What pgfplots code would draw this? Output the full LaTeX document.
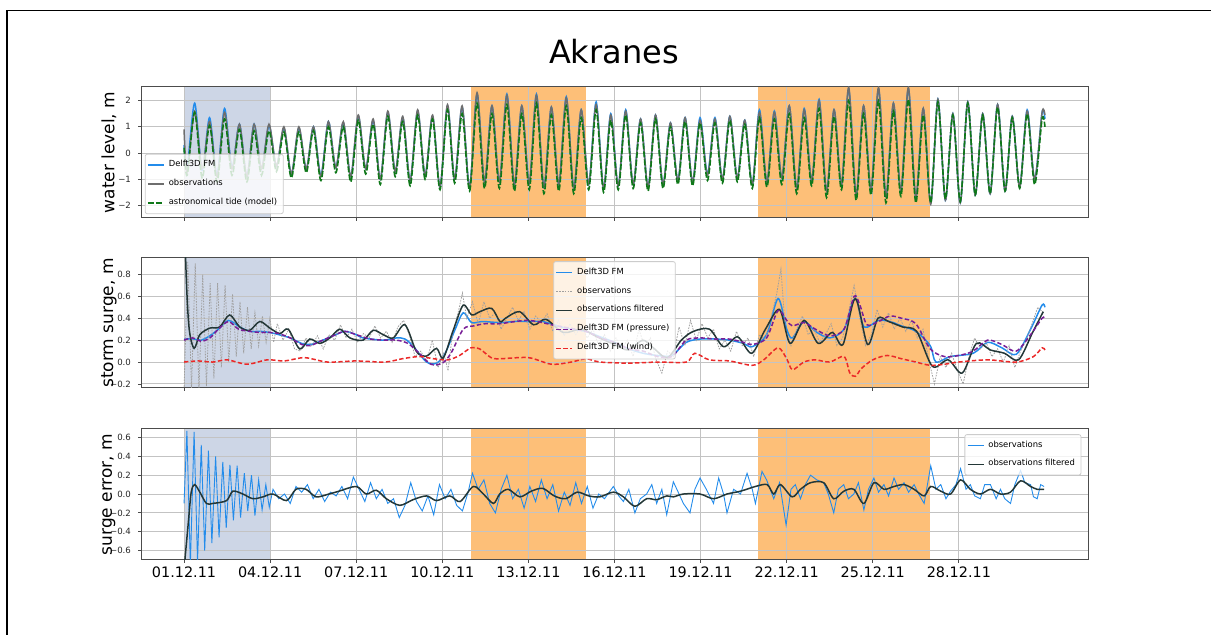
\documentclass[border=0pt]{standalone}
\usepackage{fontspec}
\setmainfont{DejaVu Sans}
\usepackage{pgfplots}
\pgfplotsset{compat=1.18}
\usepackage{pgfplotstable}

\definecolor{fmblue}{RGB}{35,140,235}
\definecolor{obsgray}{RGB}{110,110,110}
\definecolor{tidegreen}{RGB}{15,120,25}
\definecolor{filt}{RGB}{35,55,55}
\definecolor{press}{RGB}{120,30,150}
\definecolor{windred}{RGB}{235,40,40}
\definecolor{spanblue}{RGB}{205,214,230}
\definecolor{spanorange}{RGB}{253,191,120}
\definecolor{gridc}{RGB}{195,195,195}
\definecolor{obslight}{RGB}{160,160,160}

\pgfplotstableread{
t fm obs tide
0.00 0.30 0.90 0.20
0.11 -0.55 -0.75 -0.85
0.37 1.90 1.60 1.55
0.63 -0.65 -0.60 -0.95
0.89 1.35 1.20 1.05
1.15 -0.85 -0.90 -1.10
1.41 1.70 1.55 1.30
1.67 -0.55 -0.60 -0.85
1.93 1.10 1.10 0.90
2.19 -0.90 -0.90 -1.10
2.44 1.10 1.10 0.85
2.70 -0.60 -0.60 -0.85
2.96 1.05 1.10 0.85
3.22 -0.50 -0.50 -0.70
3.48 0.95 1.00 0.80
3.74 -0.80 -0.80 -0.95
4.00 0.95 1.00 0.80
4.26 -0.60 -0.60 -0.75
4.51 1.00 1.00 0.85
4.77 -0.85 -0.90 -1.05
5.03 1.20 1.20 1.00
5.29 -0.55 -0.55 -0.75
5.55 1.15 1.20 1.00
5.81 -0.90 -0.90 -1.10
6.07 1.40 1.45 1.25
6.33 -0.60 -0.60 -0.80
6.59 1.25 1.30 1.10
6.84 -1.00 -1.00 -1.20
7.10 1.55 1.60 1.40
7.36 -0.70 -0.70 -0.90
7.62 1.35 1.40 1.20
7.88 -1.05 -1.05 -1.25
8.14 1.60 1.65 1.45
8.40 -0.85 -0.85 -1.00
8.66 1.40 1.45 1.30
8.92 -1.30 -1.30 -1.40
9.18 1.80 1.85 1.65
9.43 -1.00 -1.00 -1.15
9.69 1.75 1.80 1.50
9.95 -1.30 -1.35 -1.45
10.21 2.25 2.30 1.90
10.47 -1.10 -1.10 -1.35
10.73 1.80 1.80 1.50
10.99 -1.10 -1.10 -1.35
11.25 2.25 2.20 1.85
11.51 -1.20 -1.20 -1.45
11.77 1.80 1.80 1.50
12.03 -1.15 -1.15 -1.40
12.28 2.25 2.20 1.90
12.54 -1.30 -1.30 -1.55
12.80 1.75 1.75 1.45
13.06 -1.20 -1.20 -1.45
13.32 2.15 2.10 1.80
13.58 -1.35 -1.35 -1.55
13.84 1.65 1.65 1.35
14.10 -1.20 -1.20 -1.40
14.36 1.95 1.85 1.65
14.62 -1.35 -1.35 -1.50
14.87 1.50 1.45 1.25
15.13 -1.25 -1.25 -1.40
15.39 1.65 1.60 1.45
15.65 -1.20 -1.20 -1.35
15.91 1.30 1.30 1.15
16.17 -1.30 -1.30 -1.45
16.43 1.45 1.45 1.30
16.69 -1.20 -1.20 -1.35
16.95 1.15 1.15 1.00
17.21 -1.05 -1.05 -1.20
17.46 1.35 1.35 1.20
17.72 -1.10 -1.10 -1.25
17.98 1.35 1.25 1.15
18.24 -0.80 -0.85 -1.05
18.50 1.35 1.30 1.15
18.76 -1.00 -1.00 -1.15
19.02 1.40 1.40 1.25
19.28 -0.95 -0.95 -1.10
19.54 1.25 1.25 1.10
19.80 -1.20 -1.20 -1.35
20.05 1.65 1.55 1.35
20.31 -1.10 -1.10 -1.30
20.57 1.60 1.55 1.30
20.83 -0.95 -0.95 -1.20
21.09 1.80 1.80 1.50
21.35 -1.35 -1.35 -1.55
21.61 1.70 1.65 1.35
21.87 -1.05 -1.05 -1.25
22.13 2.05 2.00 1.70
22.39 -1.45 -1.45 -1.70
22.65 1.65 1.65 1.40
22.91 -1.20 -1.20 -1.40
23.16 2.45 2.50 2.00
23.42 -1.60 -1.60 -1.80
23.68 1.80 1.80 1.50
23.94 -1.40 -1.40 -1.60
24.20 2.45 2.50 2.00
24.46 -1.65 -1.65 -1.90
24.72 1.90 1.90 1.60
24.98 -1.45 -1.45 -1.65
25.24 2.45 2.50 2.05
25.50 -1.70 -1.70 -1.90
25.76 1.70 1.70 1.45
26.02 -1.90 -1.95 -1.90
26.27 2.05 2.05 1.95
26.53 -1.80 -1.80 -1.75
26.79 1.50 1.50 1.45
27.05 -1.90 -1.90 -1.85
27.31 1.95 1.95 1.90
27.57 -1.60 -1.60 -1.60
27.83 1.50 1.50 1.45
28.09 -1.55 -1.55 -1.55
28.35 1.85 1.85 1.75
28.61 -1.45 -1.45 -1.45
28.86 1.40 1.40 1.35
29.12 -1.30 -1.30 -1.35
29.38 1.65 1.60 1.50
29.64 -1.00 -1.00 -1.20
29.90 1.55 1.55 1.30
30.00 1.30 1.45 1.00
}\wl

\pgfplotstableread{
t v
0.00 1.50
0.08 0.75
0.18 0.30
0.35 0.125
0.55 0.25
0.90 0.31
1.24 0.32
1.59 0.43
1.94 0.32
2.29 0.29
2.64 0.37
2.99 0.31
3.34 0.26
3.63 0.30
4.03 0.12
4.38 0.21
4.73 0.17
5.08 0.22
5.43 0.30
5.78 0.22
6.24 0.20
6.59 0.29
6.94 0.25
7.29 0.22
7.70 0.34
8.10 0.095
8.45 0.055
8.80 0.125
9.03 0.035
9.38 0.29
9.73 0.52
10.02 0.43
10.31 0.46
10.72 0.49
11.01 0.37
11.20 0.40
11.69 0.46
12.18 0.34
12.61 0.39
13.22 0.27
13.84 0.30
14.39 0.23
15.00 0.16
15.49 0.11
15.98 0.20
16.35 0.13
16.84 0.04
17.33 0.20
17.75 0.28
18.31 0.30
18.80 0.14
19.29 0.23
19.78 0.08
20.26 0.30
20.75 0.48
21.12 0.17
21.61 0.38
22.10 0.17
22.59 0.27
22.96 0.16
23.39 0.58
23.82 0.16
24.18 0.40
24.55 0.37
25.04 0.32
25.53 0.28
26.08 -0.04
26.63 0.02
27.12 -0.10
27.61 0.17
28.10 0.11
28.59 0.08
29.08 0.02
29.57 0.27
29.94 0.46
}\ssfilt

\pgfplotstableread{
t v
0.00 0.21
0.35 0.21
0.60 0.20
0.90 0.24
1.20 0.30
1.55 0.38
1.94 0.32
2.29 0.28
2.65 0.28
2.99 0.27
3.30 0.25
3.70 0.22
4.10 0.17
4.40 0.16
4.75 0.19
5.20 0.24
5.60 0.28
6.00 0.25
6.24 0.22
6.94 0.20
7.40 0.22
7.70 0.21
8.00 0.14
8.45 0.00
8.80 -0.01
9.10 0.08
9.45 0.30
9.73 0.45
10.02 0.36
10.40 0.37
11.01 0.36
11.50 0.37
12.00 0.37
12.50 0.37
13.00 0.33
13.50 0.30
14.00 0.28
14.50 0.23
15.00 0.18
15.50 0.12
16.00 0.08
16.50 0.06
17.00 0.06
17.50 0.18
18.00 0.21
18.50 0.21
19.00 0.20
19.50 0.17
19.80 0.14
20.30 0.25
20.70 0.58
21.00 0.30
21.20 0.22
21.60 0.37
22.00 0.28
22.50 0.22
23.00 0.30
23.30 0.55
23.45 0.56
23.70 0.32
24.20 0.38
24.60 0.37
25.00 0.33
25.50 0.28
26.00 0.15
26.20 0.00
26.70 0.05
27.50 0.08
28.00 0.18
28.50 0.13
29.00 0.07
29.50 0.30
29.90 0.52
30.00 0.50
}\ssfm

\pgfplotstableread{
t v
0.00 0.20
0.30 0.22
0.60 0.19
0.90 0.22
1.20 0.30
1.55 0.37
1.90 0.30
2.30 0.28
2.65 0.27
3.00 0.27
3.30 0.26
3.70 0.22
4.10 0.16
4.40 0.15
4.75 0.19
5.20 0.24
5.60 0.28
6.00 0.25
6.50 0.21
7.00 0.20
7.40 0.20
7.80 0.17
8.20 0.08
8.60 -0.02
9.00 -0.01
9.30 0.08
9.73 0.30
10.10 0.33
10.50 0.35
11.00 0.35
12.00 0.38
13.00 0.33
14.00 0.28
14.50 0.22
15.00 0.18
15.50 0.12
16.00 0.10
16.50 0.05
17.00 0.05
17.50 0.20
18.00 0.22
18.50 0.21
19.00 0.21
19.50 0.18
19.80 0.16
20.30 0.22
20.70 0.47
21.00 0.38
21.20 0.33
21.60 0.36
22.00 0.30
22.50 0.24
23.00 0.30
23.35 0.60
23.55 0.52
23.80 0.34
24.20 0.37
24.60 0.42
25.00 0.40
25.50 0.35
26.00 0.12
26.50 0.05
27.00 0.06
27.50 0.10
28.00 0.20
28.50 0.16
29.00 0.10
29.50 0.25
29.90 0.40
30.00 0.41
}\sspress

\pgfplotstableread{
t v
0.00 0.00
0.50 0.01
1.00 0.00
1.50 0.02
2.20 -0.02
2.90 0.02
3.50 0.01
4.20 0.04
5.00 0.00
6.00 0.01
7.00 0.00
7.60 0.03
8.20 0.05
8.70 0.03
9.20 0.02
9.60 0.06
10.00 0.13
10.30 0.12
10.70 0.04
11.00 0.03
12.00 0.04
12.80 -0.02
13.50 0.00
14.00 0.03
14.50 0.00
15.50 -0.01
16.50 0.00
17.50 0.00
17.80 0.08
18.30 0.02
19.00 0.01
19.80 -0.03
20.20 0.02
20.70 0.13
21.00 0.03
21.20 -0.07
21.60 0.00
22.00 0.02
22.50 0.00
23.00 0.05
23.20 -0.10
23.40 -0.13
23.60 -0.06
24.00 0.02
24.50 0.06
25.00 0.03
25.50 0.00
26.00 -0.03
26.50 -0.02
27.00 0.00
28.00 0.02
29.00 0.00
29.60 0.05
29.90 0.13
30.00 0.11
}\sswind

\pgfplotstableread{
t v
0.00 -0.25
0.13 0.92
0.26 -0.25
0.39 0.90
0.52 -0.25
0.65 0.80
0.78 -0.22
0.91 0.72
1.04 -0.15
1.17 0.72
1.30 -0.05
1.43 0.70
1.56 0.00
1.69 0.62
1.82 0.05
1.95 0.55
2.08 0.08
2.21 0.50
2.34 0.12
2.47 0.45
2.60 0.15
2.73 0.42
2.86 0.18
2.99 0.40
3.12 0.18
3.25 0.35
3.45 0.20
3.65 0.30
3.85 0.12
4.05 0.10
4.25 0.22
4.45 0.15
4.65 0.24
4.85 0.12
5.05 0.25
5.25 0.20
5.45 0.34
5.65 0.22
5.85 0.30
6.05 0.18
6.25 0.26
6.45 0.22
6.65 0.33
6.85 0.22
7.05 0.28
7.25 0.18
7.45 0.32
7.65 0.38
7.85 0.25
8.05 0.05
8.25 0.10
8.45 0.00
8.65 0.20
8.85 -0.05
9.05 0.08
9.20 -0.08
9.35 0.25
9.55 0.45
9.70 0.63
9.85 0.40
10.05 0.55
10.25 0.35
10.45 0.55
10.65 0.40
10.85 0.45
11.05 0.30
11.25 0.40
11.45 0.50
11.65 0.38
11.85 0.46
12.05 0.30
12.25 0.42
12.45 0.36
12.65 0.44
12.85 0.28
13.05 0.38
13.25 0.24
13.45 0.35
13.65 0.25
13.85 0.33
14.05 0.22
14.25 0.30
14.45 0.15
14.65 0.25
14.85 0.10
15.05 0.22
15.25 0.12
15.45 0.20
15.65 0.05
15.85 0.30
16.05 0.14
16.25 0.22
16.45 0.02
16.65 -0.10
16.85 0.10
17.05 0.05
17.25 0.32
17.45 0.15
17.65 0.38
17.85 0.20
18.05 0.35
18.25 0.22
18.45 0.30
18.65 0.12
18.85 0.20
19.05 0.10
19.25 0.28
19.45 0.15
19.65 0.22
19.85 0.05
20.05 0.25
20.25 0.20
20.45 0.40
20.65 0.62
20.80 0.85
20.95 0.30
21.15 0.15
21.35 0.30
21.55 0.42
21.75 0.25
21.95 0.30
22.15 0.18
22.35 0.25
22.55 0.35
22.75 0.15
22.95 0.22
23.15 0.45
23.35 0.70
23.55 0.40
23.75 0.15
23.95 0.25
24.15 0.48
24.35 0.32
24.55 0.45
24.75 0.30
24.95 0.40
25.15 0.28
25.35 0.38
25.55 0.22
25.75 0.30
25.95 0.02
26.15 -0.20
26.35 0.05
26.55 -0.05
26.75 0.08
26.95 -0.08
27.15 -0.20
27.35 0.05
27.55 0.22
27.75 0.12
27.95 0.18
28.15 0.05
28.35 0.12
28.55 0.00
28.75 0.15
28.95 -0.05
29.15 0.10
29.35 0.20
29.55 0.35
29.75 0.50
29.95 0.45
}\ssobs

\pgfplotstableread{
t v
0.00 -0.10
0.10 0.67
0.22 -0.75
0.35 0.66
0.47 -0.72
0.60 0.52
0.72 -0.60
0.85 0.46
0.97 -0.52
1.10 0.40
1.22 -0.46
1.35 0.34
1.47 -0.36
1.60 0.31
1.72 -0.28
1.85 0.30
1.97 -0.25
2.10 0.22
2.22 -0.18
2.35 0.20
2.47 -0.23
2.60 0.15
2.72 -0.17
2.85 0.10
2.97 -0.14
3.10 0.05
3.30 -0.05
3.50 0.00
3.70 -0.10
3.90 0.08
4.10 0.02
4.30 0.10
4.50 -0.05
4.70 0.05
4.90 -0.08
5.10 0.02
5.30 -0.02
5.50 0.08
5.70 -0.05
5.90 0.18
6.10 0.05
6.30 -0.08
6.50 0.12
6.70 -0.05
6.90 0.05
7.10 -0.10
7.30 -0.05
7.50 -0.25
7.70 -0.12
7.90 0.12
8.10 -0.08
8.30 -0.18
8.50 -0.02
8.70 -0.22
8.90 0.10
9.10 -0.05
9.30 0.05
9.50 -0.12
9.70 -0.18
9.90 0.02
10.05 0.22
10.25 0.05
10.45 0.15
10.65 -0.10
10.85 -0.20
11.05 0.05
11.25 0.20
11.45 -0.05
11.65 0.05
11.85 -0.15
12.05 0.08
12.25 -0.08
12.45 0.15
12.65 -0.05
12.85 0.10
13.05 -0.18
13.25 0.02
13.45 -0.12
13.65 0.12
13.85 -0.10
14.05 0.08
14.25 -0.15
14.45 0.00
14.65 -0.05
14.96 0.08
15.15 -0.02
15.31 -0.08
15.50 0.05
15.71 -0.20
15.90 -0.05
16.12 0.00
16.30 0.10
16.47 -0.10
16.65 0.05
16.82 -0.22
17.05 0.13
17.25 0.00
17.40 -0.10
17.63 -0.20
17.80 0.05
17.98 0.17
18.20 0.05
18.45 -0.10
18.63 0.17
18.80 0.00
18.92 -0.20
19.15 0.05
19.39 0.00
19.62 0.22
19.80 0.05
19.91 -0.10
20.14 0.24
20.30 0.15
20.55 -0.05
20.75 0.12
20.98 -0.33
21.15 0.05
21.30 0.10
21.48 -0.05
21.65 0.10
21.83 0.20
22.05 0.15
22.29 0.12
22.45 0.00
22.64 -0.20
22.80 0.05
22.99 0.10
23.15 -0.05
23.34 0.00
23.50 0.12
23.69 -0.17
23.85 0.05
24.04 0.17
24.20 0.02
24.39 0.10
24.55 -0.02
24.74 0.17
24.90 0.05
25.09 0.12
25.25 0.02
25.44 0.10
25.60 0.00
25.79 -0.10
26.02 0.30
26.20 0.05
26.37 0.10
26.55 -0.05
26.71 0.03
26.90 0.10
27.06 0.27
27.25 0.05
27.40 0.10
27.55 -0.02
27.75 -0.05
27.90 0.10
28.10 0.10
28.30 -0.05
28.45 0.05
28.60 -0.05
28.80 -0.10
28.95 0.10
29.15 0.25
29.30 0.12
29.50 0.10
29.60 -0.03
29.73 -0.05
29.85 0.10
29.97 0.08
}\errobs

\pgfplotstableread{
t v
0.00 -0.80
0.15 -0.30
0.25 0.02
0.37 0.10
0.55 0.02
0.78 -0.10
1.00 -0.10
1.48 -0.07
1.70 0.03
2.05 0.00
2.40 -0.05
2.75 -0.03
3.10 0.00
3.57 -0.07
3.90 0.05
4.25 0.05
4.60 -0.03
5.05 0.00
5.40 0.03
6.00 0.08
6.35 0.00
6.70 0.04
7.05 -0.05
7.52 -0.12
7.98 -0.06
8.45 -0.02
8.80 -0.07
9.26 -0.02
9.62 -0.08
10.08 0.08
10.43 0.00
10.78 -0.10
11.00 0.00
11.30 0.05
11.70 -0.03
12.10 0.03
12.50 0.06
12.90 -0.02
13.30 -0.05
13.70 0.02
14.10 -0.02
14.49 -0.03
14.96 0.02
15.31 -0.03
15.71 -0.13
16.12 -0.05
16.47 -0.06
16.82 -0.02
17.05 -0.03
17.40 0.00
17.98 0.00
18.45 -0.05
18.92 0.00
19.39 0.03
19.91 0.08
20.32 0.10
20.55 0.00
20.78 0.10
21.19 -0.03
21.48 0.05
21.83 0.12
22.29 0.12
22.64 -0.05
22.99 0.03
23.34 0.05
23.69 -0.10
24.04 0.12
24.39 0.05
24.74 0.08
25.09 0.10
25.44 0.05
25.79 -0.02
26.02 0.08
26.37 0.03
26.71 0.00
27.06 0.15
27.40 0.05
27.75 0.00
28.10 0.05
28.45 0.00
28.80 0.02
29.15 0.14
29.50 0.08
29.73 0.05
29.97 0.05
}\errfilt

\pgfplotsset{
  panel/.style={
    scale only axis, width=473.5pt,
    xmin=-1.5, xmax=31.5,
    xtick={0,3,...,27},
    xtick pos=left, ytick pos=left,
    set layers, clip mode=individual,
    grid=major, grid style={gridc, line width=0.5pt},
    axis line style={draw=black!70, line width=0.5pt},
    tick align=outside, major tick length=1.5pt,
    tick style={black!70, line width=0.4pt},
    yticklabel style={font=\fontsize{4.3pt}{5pt}\selectfont, text=black!85},
    xticklabel style={font=\fontsize{7.2pt}{8pt}\selectfont, yshift=1.5pt},
    every axis y label/.style={at={(axis description cs:0,0.5)}, xshift=-16pt, rotate=90, anchor=center, font=\fontsize{8.5pt}{10pt}\selectfont},
    legend style={font=\fontsize{4.2pt}{5.2pt}\selectfont, draw=black!20, fill=white, fill opacity=0.8, text opacity=1, rounded corners=1pt, inner sep=1pt, row sep=0.8pt},
    legend cell align=left,
    legend image code/.code={\draw[##1] (0pt,0pt) -- (8pt,0pt);},
  }
}

\begin{document}
\begin{tikzpicture}
\path (0,0) rectangle (606pt,317.5pt);
\draw[line width=0.9pt] (3.3pt,0pt) -- (3.3pt,312.2pt) -- (605.5pt,312.2pt);
\node[anchor=base, font=\fontsize{16pt}{19pt}\selectfont] at (307pt,285.5pt) {Akranes};

% Panel 1
\begin{axis}[panel, at={(70.5pt,208.5pt)}, anchor=south west, height=65.5pt,
  ymin=-2.48, ymax=2.52, ytick={-2,-1,0,1,2}, yticklabels={−2,−1,0,1,2},
  xticklabels={}, ylabel={water level, m},
  legend style={at={(0.004,0.03)}, anchor=south west}]
\addplot[on layer=axis background, draw=none, fill=spanblue, forget plot] coordinates {(0,-2.48) (3,-2.48) (3,2.52) (0,2.52)};
\addplot[on layer=axis background, draw=none, fill=spanorange, forget plot] coordinates {(10,-2.48) (14,-2.48) (14,2.52) (10,2.52)};
\addplot[on layer=axis background, draw=none, fill=spanorange, forget plot] coordinates {(20,-2.48) (26,-2.48) (26,2.52) (20,2.52)};
\addplot[fmblue, line width=0.75pt, smooth] table[x=t,y=fm]{\wl};
\addlegendentry{Delft3D FM}
\addplot[obsgray, line width=0.75pt, smooth] table[x=t,y=obs]{\wl};
\addlegendentry{observations}
\addplot[tidegreen, line width=0.8pt, dash pattern=on 3pt off 1pt, smooth] table[x=t,y=tide]{\wl};
\addlegendentry{astronomical tide (model)}
\end{axis}

% Panel 2
\begin{axis}[panel, at={(70.5pt,123.5pt)}, anchor=south west, height=65pt,
  ymin=-0.237, ymax=0.95, ytick={-0.2,0,0.2,0.4,0.6,0.8}, yticklabels={−0.2,0.0,0.2,0.4,0.6,0.8},
  xticklabels={}, ylabel={storm surge, m},
  legend style={at={(0.5,0.975)}, anchor=north}]
\addplot[on layer=axis background, draw=none, fill=spanblue, forget plot] coordinates {(0,-0.237) (3,-0.237) (3,0.95) (0,0.95)};
\addplot[on layer=axis background, draw=none, fill=spanorange, forget plot] coordinates {(10,-0.237) (14,-0.237) (14,0.95) (10,0.95)};
\addplot[on layer=axis background, draw=none, fill=spanorange, forget plot] coordinates {(20,-0.237) (26,-0.237) (26,0.95) (20,0.95)};
\addplot[fmblue, line width=0.75pt, smooth] table[x=t,y=v]{\ssfm};
\addlegendentry{Delft3D FM}
\addplot[obslight, line width=0.4pt, dash pattern=on 0.8pt off 0.6pt] table[x=t,y=v]{\ssobs};
\addlegendentry{observations}
\addplot[filt, line width=0.75pt, smooth] table[x=t,y=v]{\ssfilt};
\addlegendentry{observations filtered}
\addplot[press, line width=0.75pt, dash pattern=on 2.2pt off 1.2pt, smooth] table[x=t,y=v]{\sspress};
\addlegendentry{Delft3D FM (pressure)}
\addplot[windred, line width=0.75pt, dash pattern=on 2.2pt off 1.2pt, smooth] table[x=t,y=v]{\sswind};
\addlegendentry{Delft3D FM (wind)}
\end{axis}

% Panel 3
\begin{axis}[panel, at={(70.5pt,37.5pt)}, anchor=south west, height=65.5pt,
  ymin=-0.70, ymax=0.69, ytick={-0.6,-0.4,-0.2,0,0.2,0.4,0.6}, yticklabels={−0.6,−0.4,−0.2,0.0,0.2,0.4,0.6},
  xticklabels={01.12.11,04.12.11,07.12.11,10.12.11,13.12.11,16.12.11,19.12.11,22.12.11,25.12.11,28.12.11},
  ylabel={surge error, m},
  legend style={at={(0.993,0.96)}, anchor=north east}]
\addplot[on layer=axis background, draw=none, fill=spanblue, forget plot] coordinates {(0,-0.70) (3,-0.70) (3,0.69) (0,0.69)};
\addplot[on layer=axis background, draw=none, fill=spanorange, forget plot] coordinates {(10,-0.70) (14,-0.70) (14,0.69) (10,0.69)};
\addplot[on layer=axis background, draw=none, fill=spanorange, forget plot] coordinates {(20,-0.70) (26,-0.70) (26,0.69) (20,0.69)};
\addplot[fmblue, line width=0.45pt] table[x=t,y=v]{\errobs};
\addlegendentry{observations}
\addplot[filt, line width=0.75pt, smooth] table[x=t,y=v]{\errfilt};
\addlegendentry{observations filtered}
\end{axis}
\end{tikzpicture}
\end{document}
